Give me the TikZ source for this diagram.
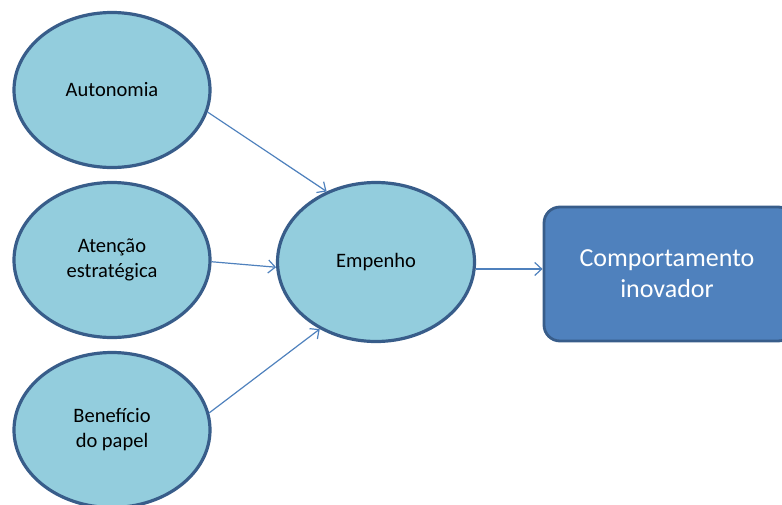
\documentclass[tikz,border=0pt]{standalone}
\usepackage{fontspec}
\setmainfont{Carlito}
\usetikzlibrary{shapes.geometric,arrows.meta}
\definecolor{lightfill}{HTML}{93CDDD}
\definecolor{darkedge}{HTML}{385D8A}
\definecolor{boxfill}{HTML}{4F81BD}
\definecolor{linkblue}{HTML}{4F81BD}
\begin{document}
\begin{tikzpicture}[x=1pt,y=-1pt,
  construct/.style={ellipse, draw=darkedge, line width=3.2pt, fill=lightfill,
    minimum width=196pt, minimum height=155pt, inner sep=0pt,
    font=\fontsize{20.5}{25}\selectfont, align=center, text=black},
  outcome/.style={rectangle, rounded corners=16pt, draw=darkedge, line width=2.8pt,
    fill=boxfill, minimum width=250pt, minimum height=134pt, inner sep=0pt},
  outcomelabel/.style={font=\fontsize{26}{31}\selectfont, align=center, text=white},
  link/.style={draw=linkblue, line width=1.2pt, -{Straight Barb[length=7pt,width=13pt,line width=1.2pt]}}
]
\useasboundingbox (0,0) rectangle (782,504);
\node[construct] (aut) at (112,90) {Autonomia};
\node[construct] (ate) at (112,260) {Atenção\\estratégica};
\node[construct] (ben) at (112,430) {Benefício\\do papel};
\node[construct, minimum width=197pt, minimum height=159pt] (emp) at (376,262) {Empenho};
\node[outcome] (com) at (669,274) {};
\node[outcomelabel] (comtext) at (667,274) {Comportamento\\inovador};
\coordinate (empout) at (emp.-4);
\draw[link] (aut.-13) -- (emp.125);
\draw[link] (ate.-1) -- (emp.183);
\draw[link] (ben.10) -- (emp.230);
\draw[link] (empout) -- (empout -| com.west);
\end{tikzpicture}
\end{document}
